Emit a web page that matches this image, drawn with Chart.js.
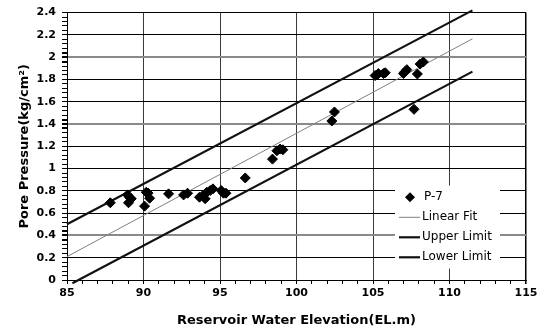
<!DOCTYPE html>
<html>
<head>
<meta charset="utf-8">
<script src="https://cdn.jsdelivr.net/npm/chart.js@4/dist/chart.umd.min.js"></script>
<style>
  html, body { margin: 0; padding: 0; background: #fff; }
  #wrap { width: 548px; height: 333px; }
</style>
</head>
<body>
<div id="wrap"><canvas id="chart" width="548" height="333"></canvas></div>
<script>
// DATA
const elevation = [87.83, 88.96, 89.02, 89.2, 89.1, 90.07, 90.18, 90.3, 90.4, 91.64,
  92.62, 92.88, 93.66, 93.88, 94.03, 94.14, 94.36, 94.54, 95.08, 95.23,
  95.39, 96.65, 98.43, 98.72, 98.93, 99.11, 102.31, 102.48, 105.14, 105.25,
  105.35, 105.68, 105.8, 106.99, 107.1, 107.21, 107.68, 107.9, 108.08, 108.29];
const pressure = [0.693, 0.764, 0.693, 0.729, 0.74, 0.663, 0.788, 0.78, 0.734, 0.773,
  0.764, 0.779, 0.743, 0.758, 0.729, 0.788, 0.803, 0.818, 0.803, 0.779,
  0.779, 0.916, 1.085, 1.16, 1.175, 1.169, 1.427, 1.508, 1.835, 1.84,
  1.853, 1.853, 1.86, 1.853, 1.87, 1.888, 1.532, 1.849, 1.938, 1.957];

const fitX = [85, 111.5];
const fitY = [0.21, 2.165];
const upperX = [85, 111.5];
const upperY = [0.5, 2.42];
const lowerX = [85.35, 111.5];
const lowerY = [-0.03, 1.87];

const seriesNames = ['P-7', 'Linear Fit', 'Upper Limit', 'Lower Limit'];

const xMin = 85, xMax = 115, xMajor = 5, xMinor = 1;
const yMin = 0, yMax = 2.4, yMajor = 0.2, yMinor = 0.04;

function toPoints(xs, ys) {
  return xs.map((x, i) => ({ x: x, y: ys[i] }));
}
function isMajor(v, step) {
  const r = v / step;
  return Math.abs(r - Math.round(r)) < 1e-6;
}

Chart.defaults.font.family = 'DejaVu Sans';
Chart.defaults.color = '#000';

// legend drawn inside the plot, on a white box
const boxLegend = {
  id: 'boxLegend',
  afterDraw(chart) {
    const ctx = chart.ctx;
    const a = chart.chartArea;
    const left = a.right - 131, top = a.top + 173;
    ctx.save();
    ctx.fillStyle = '#fff';
    ctx.fillRect(left, top, 105, 83);
    ctx.font = '12px "DejaVu Sans"';
    ctx.textBaseline = 'middle';
    chart.data.datasets.forEach((ds, i) => {
      const y = top + 11.7 + i * 20;
      if (i === 0) {
        ctx.fillStyle = ds.backgroundColor;
        ctx.beginPath();
        ctx.moveTo(left + 15 - 5, y);
        ctx.lineTo(left + 15, y - 5);
        ctx.lineTo(left + 15 + 5, y);
        ctx.lineTo(left + 15, y + 5);
        ctx.closePath();
        ctx.fill();
      } else {
        ctx.strokeStyle = ds.borderColor;
        ctx.lineWidth = ds.borderWidth;
        ctx.beginPath();
        ctx.moveTo(left + 4, y);
        ctx.lineTo(left + 25, y);
        ctx.stroke();
      }
      ctx.fillStyle = '#000';
      ctx.fillText(ds.label, left + (i === 0 ? 29 : 27), y);
    });
    ctx.restore();
  }
};

new Chart(document.getElementById('chart'), {
  type: 'scatter',
  data: {
    datasets: [
      {
        label: seriesNames[0],
        data: toPoints(elevation, pressure),
        pointStyle: 'rectRot',
        pointRadius: 5,
        backgroundColor: '#000',
        borderColor: '#000',
        borderWidth: 1,
        showLine: false
      },
      {
        label: seriesNames[1],
        data: toPoints(fitX, fitY),
        showLine: true,
        pointRadius: 0,
        borderColor: '#808080',
        borderWidth: 1
      },
      {
        label: seriesNames[2],
        data: toPoints(upperX, upperY),
        showLine: true,
        pointRadius: 0,
        borderColor: '#111',
        borderWidth: 2.2,
        clip: false
      },
      {
        label: seriesNames[3],
        data: toPoints(lowerX, lowerY),
        showLine: true,
        pointRadius: 0,
        borderColor: '#111',
        borderWidth: 2.2,
        clip: false
      }
    ]
  },
  options: {
    responsive: false,
    animation: false,
    layout: { padding: { left: 0, right: 22, top: 11, bottom: 0 } },
    plugins: {
      legend: { display: false },
      tooltip: { enabled: false }
    },
    scales: {
      x: {
        type: 'linear',
        min: xMin,
        max: xMax,
        afterFit(scale) { scale.height = 53; },
        ticks: {
          stepSize: xMinor,
          autoSkip: false,
          maxRotation: 0,
          padding: 3,
          font: { size: 11, weight: 'bold' },
          callback: v => isMajor(v, xMajor) ? String(Math.round(v)) : ''
        },
        grid: {
          color: c => isMajor(c.tick.value, xMajor) ? (c.tick.value === xMax ? '#000' : '#3a3a3a') : 'rgba(0,0,0,0)',
          lineWidth: c => c.tick.value === xMax ? 1.5 : 1,
          tickColor: '#000',
          tickLength: 4
        },
        border: { color: '#000', width: 1 },
        title: {
          display: true,
          text: 'Reservoir Water Elevation(EL.m)',
          font: { size: 13, weight: 'bold' },
          padding: { top: 0, bottom: 5 }
        }
      },
      y: {
        type: 'linear',
        min: yMin,
        max: yMax,
        afterFit(scale) { scale.width = 67; },
        ticks: {
          stepSize: yMinor,
          autoSkip: false,
          padding: 6,
          font: { size: 11, weight: 'bold' },
          callback: v => isMajor(v, yMajor) ? String(Math.round(v * 10) / 10) : ''
        },
        grid: {
          color: c => {
            const v = c.tick.value;
            if (!isMajor(v, yMajor)) return 'rgba(0,0,0,0)';
            const k = Math.round(v * 10) / 10;
            return (k === 2 || k === 1.4 || k === 0.4) ? '#8a8a8a' : '#000';
          },
          lineWidth: c => {
            const k = Math.round(c.tick.value * 10) / 10;
            return (k === 2 || k === 1.4 || k === 0.4) ? 2 : 1;
          },
          tickColor: '#000',
          tickLength: 5
        },
        border: { color: '#000', width: 1 },
        title: {
          display: true,
          text: 'Pore Pressure(kg/cm²)',
          font: { size: 13, weight: 'bold' },
          padding: { top: 17, bottom: 0 }
        }
      }
    }
  },
  plugins: [boxLegend]
});
</script>
</body>
</html>
